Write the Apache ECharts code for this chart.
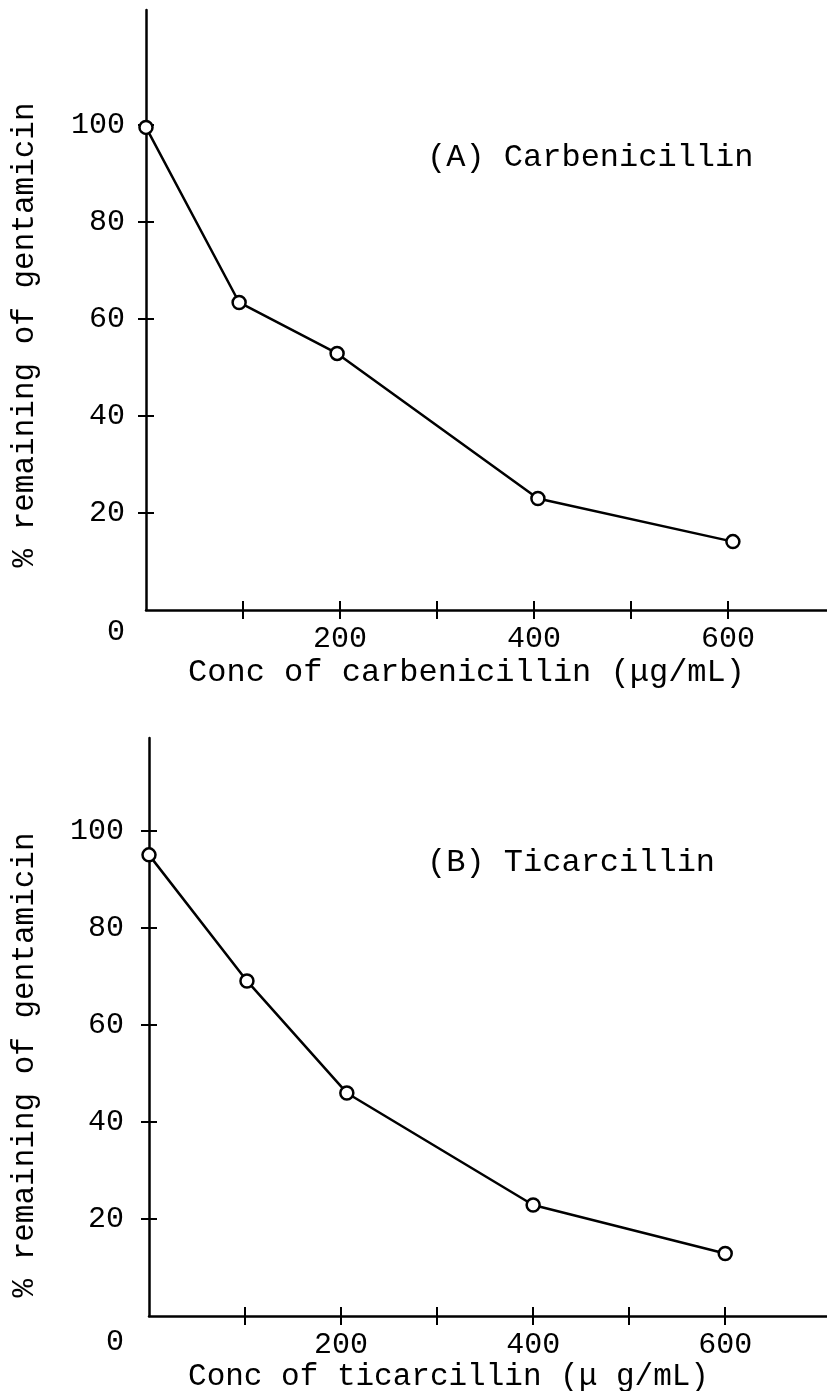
<!DOCTYPE html>
<html>
<head>
<meta charset="utf-8">
<script src="https://cdn.jsdelivr.net/npm/echarts@6/dist/echarts.min.js"></script>
<style>
html,body{margin:0;padding:0;background:#fff;}
#chart{width:827px;height:1391px;}
</style>
</head>
<body>
<div id="chart"></div>
<script>
// Panel A: carbenicillin
const concA = [0, 96, 197, 404, 605];
const remainA = [99.5, 63.4, 52.9, 23.0, 14.1];
// Panel B: ticarcillin
const concB = [0, 102, 206, 400, 600];
const remainB = [95.1, 69.1, 46.0, 22.9, 12.9];

const xTickValues = [100, 200, 300, 400, 500, 600];
const xLabelValues = [200, 400, 600];
const yTickValues = [20, 40, 60, 80, 100];
const yLabelValues = [0, 20, 40, 60, 80, 100];

const titleA = '(A) Carbenicillin';
const titleB = '(B) Ticarcillin';
const xNameA = 'Conc of carbenicillin (\u03bcg/mL)';
const xNameB = 'Conc of ticarcillin (\u03bc g/mL)';
const yName = '% remaining of gentamicin';

const FONT = '"Liberation Mono", "DejaVu Sans Mono", monospace';
const black = '#000';
const clear = 'rgba(0,0,0,0)';
const TICK_X = 9;   // half length of crossing x ticks
const TICK_Y = 8;   // half length of crossing y ticks

// main axis: line, labels, name (no ticks)
function xMain(grid, max, nameText, nameSize, namePad, nameGap) {
  return {
    type: 'value', gridIndex: grid, position: 'bottom', min: 0, max: max,
    axisLine: {show: true, lineStyle: {color: black, width: 2.5}},
    axisTick: {show: false},
    axisLabel: {customValues: xLabelValues, color: black, fontFamily: FONT, fontSize: 30, margin: 14},
    splitLine: {show: false},
    name: nameText, nameLocation: 'middle', nameGap: nameGap,
    nameTextStyle: {color: black, fontFamily: FONT, fontSize: nameSize, padding: namePad}
  };
}
// tick axis on an identical grid, shifted inward so its ticks cross the main line
function xTicks(grid, max) {
  return {
    type: 'value', gridIndex: grid, position: 'bottom', offset: -TICK_X, min: 0, max: max,
    axisLine: {show: true, lineStyle: {color: clear, width: 1}},
    axisTick: {show: true, customValues: xTickValues, length: 2 * TICK_X, lineStyle: {color: black, width: 2}},
    axisLabel: {show: false},
    splitLine: {show: false}
  };
}
function yMain(grid, max, zeroPad, namePad, nameGap, labelMargin) {
  return {
    type: 'value', gridIndex: grid, position: 'left', min: 0, max: max,
    axisLine: {show: true, lineStyle: {color: black, width: 2.5}},
    axisTick: {show: false},
    axisLabel: {
      customValues: yLabelValues, color: black, fontFamily: FONT, fontSize: 30, margin: labelMargin,
      formatter: function (v) { return v === 0 ? '{z|0}' : String(v); },
      rich: {z: {fontFamily: FONT, fontSize: 30, color: black, padding: [zeroPad, 0, 0, 0]}}
    },
    splitLine: {show: false},
    name: yName, nameLocation: 'middle', nameRotate: 90, nameGap: nameGap,
    nameTextStyle: {color: black, fontFamily: FONT, fontSize: 31, padding: namePad}
  };
}
function yTicks(grid, max) {
  return {
    type: 'value', gridIndex: grid, position: 'left', offset: -TICK_Y, min: 0, max: max,
    axisLine: {show: true, lineStyle: {color: clear, width: 1}},
    axisTick: {show: true, customValues: yTickValues, length: 2 * TICK_Y, lineStyle: {color: black, width: 2}},
    axisLabel: {show: false},
    splitLine: {show: false}
  };
}

function lineSeries(xi, yi, xs, ys) {
  return {
    type: 'line', xAxisIndex: xi, yAxisIndex: yi,
    data: xs.map((x, i) => [x, ys[i]]),
    symbol: 'circle', symbolSize: 13, clip: false,
    lineStyle: {color: black, width: 2.5},
    itemStyle: {color: '#fff', borderColor: black, borderWidth: 2.5},
    z: 5
  };
}

const gA = {left: 146, top: 10, width: 681, height: 600, outerBoundsMode: 'none', containLabel: false};
const gB = {left: 149, top: 738, width: 678, height: 578, outerBoundsMode: 'none', containLabel: false};

const chart = echarts.init(document.getElementById('chart'), null, {renderer: 'canvas'});
chart.setOption({
  animation: false,
  backgroundColor: '#fff',
  title: [
    {text: titleA, left: 427, top: 142, padding: 0,
     textStyle: {color: black, fontFamily: FONT, fontSize: 32, fontWeight: 'normal'}},
    {text: titleB, left: 427, top: 847, padding: 0,
     textStyle: {color: black, fontFamily: FONT, fontSize: 32, fontWeight: 'normal'}}
  ],
  grid: [gA, Object.assign({}, gA), gB, Object.assign({}, gB)],
  xAxis: [
    xMain(0, 702, xNameA, 32, [0, 40, 0, 0], 47),
    xTicks(1, 702),
    xMain(2, 706, xNameB, 31, [0, 79, 0, 0], 44),
    xTicks(3, 706)
  ],
  yAxis: [
    yMain(0, 123.7, 44, [0, 50, 0, 0], 106, 21),
    yTicks(1, 123.7),
    yMain(2, 119.2, 52, [0, 76, 0, 0], 109, 25),
    yTicks(3, 119.2)
  ],
  series: [
    lineSeries(0, 0, concA, remainA),
    lineSeries(2, 2, concB, remainB)
  ]
});
</script>
</body>
</html>
